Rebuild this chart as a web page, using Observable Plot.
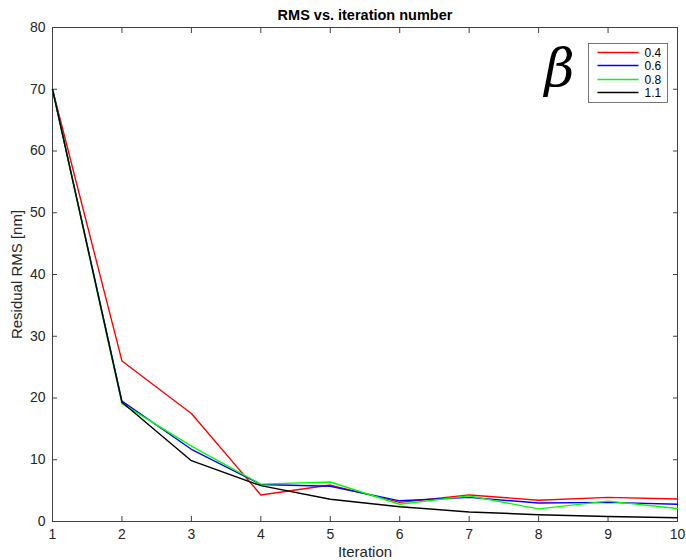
<!DOCTYPE html>
<html>
<head>
<meta charset="utf-8">
<script src="https://cdn.jsdelivr.net/npm/d3@7"></script>
<script src="https://cdn.jsdelivr.net/npm/@observablehq/plot@0.6"></script>
<style>
  html, body { margin: 0; padding: 0; background: #fff; }
  #chart { width: 686px; height: 560px; overflow: hidden; }
</style>
</head>
<body>
<div id="chart"></div>
<script>
const iterations = [1, 2, 3, 4, 5, 6, 7, 8, 9, 10];
const betas = ["0.4", "0.6", "0.8", "1.1"];
const colors = ["#ff0000", "#0000ff", "#00ff00", "#000000"];
const rms04 = [70, 26.0, 17.5, 4.3, 5.9, 3.1, 4.3, 3.45, 3.9, 3.65];
const rms06 = [70, 19.5, 11.7, 6.0, 5.7, 3.35, 3.9, 3.0, 3.1, 2.8];
const rms08 = [70, 19.1, 12.2, 6.05, 6.4, 2.8, 4.15, 2.05, 3.3, 2.1];
const rms11 = [70, 19.3, 9.85, 5.8, 3.6, 2.4, 1.55, 1.1, 0.8, 0.6];
const xTicks = [1, 2, 3, 4, 5, 6, 7, 8, 9, 10];
const yTicks = [0, 10, 20, 30, 40, 50, 60, 70, 80];

const seriesValues = [rms04, rms06, rms08, rms11];
const data = [];
betas.forEach((b, i) => {
  iterations.forEach((it, j) => data.push({beta: b, iteration: it, rms: seriesValues[i][j]}));
});

const font = "'Liberation Sans', Arial, Helvetica, sans-serif";
const axisColor = "#404040";

const plot = Plot.plot({
  width: 686,
  height: 560,
  marginLeft: 52,
  marginRight: 9,
  marginTop: 27,
  marginBottom: 39,
  style: {fontFamily: font, fontSize: "14px", color: "#262626", background: "#fff", overflow: "visible"},
  x: {domain: [1, 10]},
  y: {domain: [0, 80]},
  color: {domain: [...betas], range: [...colors]},
  marks: [
    Plot.frame({stroke: axisColor, strokeWidth: 1}),
    Plot.axisX({ticks: xTicks, anchor: "bottom", tickSize: -5, text: null, label: null, stroke: axisColor}),
    Plot.axisX({ticks: xTicks, anchor: "top", tickSize: -5, text: null, label: null, stroke: axisColor}),
    Plot.axisY({ticks: yTicks, anchor: "left", tickSize: -5, text: null, label: null, stroke: axisColor}),
    Plot.axisY({ticks: yTicks, anchor: "right", tickSize: -5, text: null, label: null, stroke: axisColor}),
    Plot.axisX({ticks: xTicks, anchor: "bottom", tickSize: 0, tickPadding: 8, tickFormat: d => String(d),
      label: "Iteration", labelAnchor: "center", labelArrow: "none", labelOffset: 35, fontSize: 14, fill: "#262626"}),
    Plot.axisY({ticks: yTicks, anchor: "left", tickSize: 0, tickPadding: 7, tickFormat: d => String(d),
      label: "Residual RMS [nm]", labelAnchor: "center", labelArrow: "none", labelOffset: 41, fontSize: 14, fill: "#262626"}),
    Plot.line(data, {x: "iteration", y: "rms", z: "beta", stroke: "beta", strokeWidth: 1.4}),
    Plot.text(["\u03b2"], {frameAnchor: "top-right", dx: -118, dy: 22, fontSize: 52, fontStyle: "italic",
      fontFamily: "'DejaVu Serif', 'Liberation Serif', serif", fill: "#000", textAnchor: "middle", lineAnchor: "top"})
  ]
});

const svg = d3.select(plot);
svg.append("text")
  .attr("x", 365).attr("y", 20)
  .attr("text-anchor", "middle")
  .attr("font-family", font)
  .attr("font-weight", "bold")
  .attr("font-size", 14.5)
  .attr("fill", "#000")
  .text("RMS vs. iteration number");

svg.selectAll("g[aria-label='x-axis label'] text, g[aria-label='y-axis label'] text")
  .attr("font-size", 15).style("font-size", "15px");

// Legend
const lg = svg.append("g").attr("font-family", font).attr("font-size", 12).attr("text-anchor", "start");
const lx = 588.5, ly = 43.5, lw = 79, lh = 59;
lg.append("rect").attr("x", lx).attr("y", ly).attr("width", lw).attr("height", lh)
  .attr("fill", "#fff").attr("stroke", "#555").attr("stroke-width", 0.8);
betas.forEach((b, i) => {
  const yy = Math.round(ly + 8 + i * 13.5) + 0.5;
  lg.append("path").attr("d", `M${lx + 9},${yy}H${lx + 50}`)
    .attr("fill", "none")
    .style("stroke", colors[i]).style("stroke-width", "1.3px");
  lg.append("text").attr("x", lx + 56).attr("y", yy).attr("dy", "0.35em")
    .attr("text-anchor", "start").attr("fill", "#000").text(b);
});

document.getElementById("chart").appendChild(plot);
</script>
</body>
</html>
